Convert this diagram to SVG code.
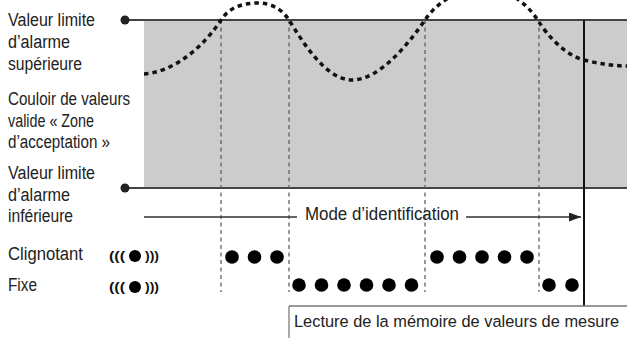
<svg xmlns="http://www.w3.org/2000/svg" width="627" height="338" viewBox="0 0 627 338">
<defs>
<style>
.lbl{font-family:"Liberation Sans Narrow","Liberation Sans",Arial,sans-serif;font-size:18px;fill:#222}
.par{font-family:"Liberation Sans",Arial,sans-serif;font-size:13px;font-weight:bold;fill:#111}
.dash{stroke:#555;stroke-width:1.2;stroke-dasharray:4 3.5;fill:none}
.lim{stroke:#444;stroke-width:2;fill:none}
.dot{fill:#000}
</style>
<marker id="ah" viewBox="0 0 12 9" refX="12" refY="4.5" markerWidth="12" markerHeight="9" markerUnits="userSpaceOnUse" orient="auto">
<path d="M0,0 L12,4.5 L0,9 Z" fill="#222"/>
</marker>
</defs>
<rect width="627" height="338" fill="#fff"/>

<g id="zone">
<rect x="144" y="20" width="483" height="168" fill="#cccccc"/>
</g>

<g id="connectors">
<line class="lim" x1="125" y1="20" x2="627" y2="20"/>
<line class="lim" x1="125" y1="188" x2="627" y2="188"/>
<circle cx="125" cy="20" r="4.5" fill="#222"/>
<circle cx="125" cy="188" r="4.5" fill="#222"/>
<line class="dash" x1="221" y1="20" x2="221" y2="292"/>
<line class="dash" x1="289" y1="20" x2="289" y2="292"/>
<line class="dash" x1="425" y1="20" x2="425" y2="292"/>
<line class="dash" x1="539" y1="20" x2="539" y2="292"/>
<line x1="584" y1="20" x2="584" y2="306" stroke="#111" stroke-width="2"/>
<line x1="144" y1="217" x2="297" y2="217" stroke="#333" stroke-width="1.5"/>
<line x1="466" y1="217" x2="581" y2="217" stroke="#333" stroke-width="1.5" marker-end="url(#ah)"/>
<line x1="289" y1="306" x2="627" y2="306" stroke="#777" stroke-width="1.5"/>
<line x1="289" y1="306" x2="289" y2="338" stroke="#555" stroke-width="1"/>
</g>

<g id="signal">
<path d="M144,74 C175,72 205,45 221,20 C230,6 245,3 258,3 C271,3 282,9 289,20 C301,39 325,80 352,80 C380,80 410,42 425,20 C437,2 460,-12 482,-12 C505,-12 525,0 539,22 C548,36 565,55 584,60 C600,64 615,66 627,66" fill="none" stroke="#111" stroke-width="3.5" stroke-dasharray="4.5 4"/>
</g>

<g id="labels">
<text class="lbl" x="8" y="26" textLength="87" lengthAdjust="spacingAndGlyphs">Valeur limite</text>
<text class="lbl" x="8" y="48" textLength="62" lengthAdjust="spacingAndGlyphs">d’alarme</text>
<text class="lbl" x="8" y="70" textLength="74" lengthAdjust="spacingAndGlyphs">supérieure</text>
<text class="lbl" x="8" y="105" textLength="122" lengthAdjust="spacingAndGlyphs">Couloir de valeurs</text>
<text class="lbl" x="8" y="127" textLength="86" lengthAdjust="spacingAndGlyphs">valide « Zone</text>
<text class="lbl" x="8" y="148" textLength="102" lengthAdjust="spacingAndGlyphs">d’acceptation »</text>
<text class="lbl" x="8" y="179" textLength="87" lengthAdjust="spacingAndGlyphs">Valeur limite</text>
<text class="lbl" x="8" y="201" textLength="62" lengthAdjust="spacingAndGlyphs">d’alarme</text>
<text class="lbl" x="8" y="222" textLength="65" lengthAdjust="spacingAndGlyphs">inférieure</text>
<text class="lbl" x="305" y="220" textLength="154" lengthAdjust="spacingAndGlyphs">Mode d’identification</text>
</g>

<g id="row-clignotant">
<text class="lbl" x="8" y="260" textLength="75" lengthAdjust="spacingAndGlyphs">Clignotant</text>
<text class="par" x="109" y="260" textLength="16" lengthAdjust="spacingAndGlyphs">(((</text>
<circle class="dot" cx="135" cy="256" r="6"/>
<text class="par" x="145" y="260" textLength="14" lengthAdjust="spacingAndGlyphs">)))</text>
<circle class="dot" cx="232" cy="257" r="6.8"/>
<circle class="dot" cx="254.5" cy="257" r="6.8"/>
<circle class="dot" cx="277" cy="257" r="6.8"/>
<circle class="dot" cx="437" cy="257" r="6.8"/>
<circle class="dot" cx="459.5" cy="257" r="6.8"/>
<circle class="dot" cx="482" cy="257" r="6.8"/>
<circle class="dot" cx="504.5" cy="257" r="6.8"/>
<circle class="dot" cx="527" cy="257" r="6.8"/>
</g>

<g id="row-fixe">
<text class="lbl" x="8" y="291" textLength="29" lengthAdjust="spacingAndGlyphs">Fixe</text>
<text class="par" x="109" y="291" textLength="16" lengthAdjust="spacingAndGlyphs">(((</text>
<circle class="dot" cx="135" cy="287" r="6"/>
<text class="par" x="145" y="291" textLength="14" lengthAdjust="spacingAndGlyphs">)))</text>
<circle class="dot" cx="299" cy="285" r="6.8"/>
<circle class="dot" cx="321.5" cy="285" r="6.8"/>
<circle class="dot" cx="344" cy="285" r="6.8"/>
<circle class="dot" cx="366.5" cy="285" r="6.8"/>
<circle class="dot" cx="389" cy="285" r="6.8"/>
<circle class="dot" cx="411.5" cy="285" r="6.8"/>
<circle class="dot" cx="549" cy="285" r="6.8"/>
<circle class="dot" cx="572" cy="285" r="6.8"/>
</g>

<g id="memory-box">
<text class="lbl" x="294" y="327" style="font-size:16.3px" textLength="325" lengthAdjust="spacingAndGlyphs">Lecture de la mémoire de valeurs de mesure</text>
</g>
</svg>
